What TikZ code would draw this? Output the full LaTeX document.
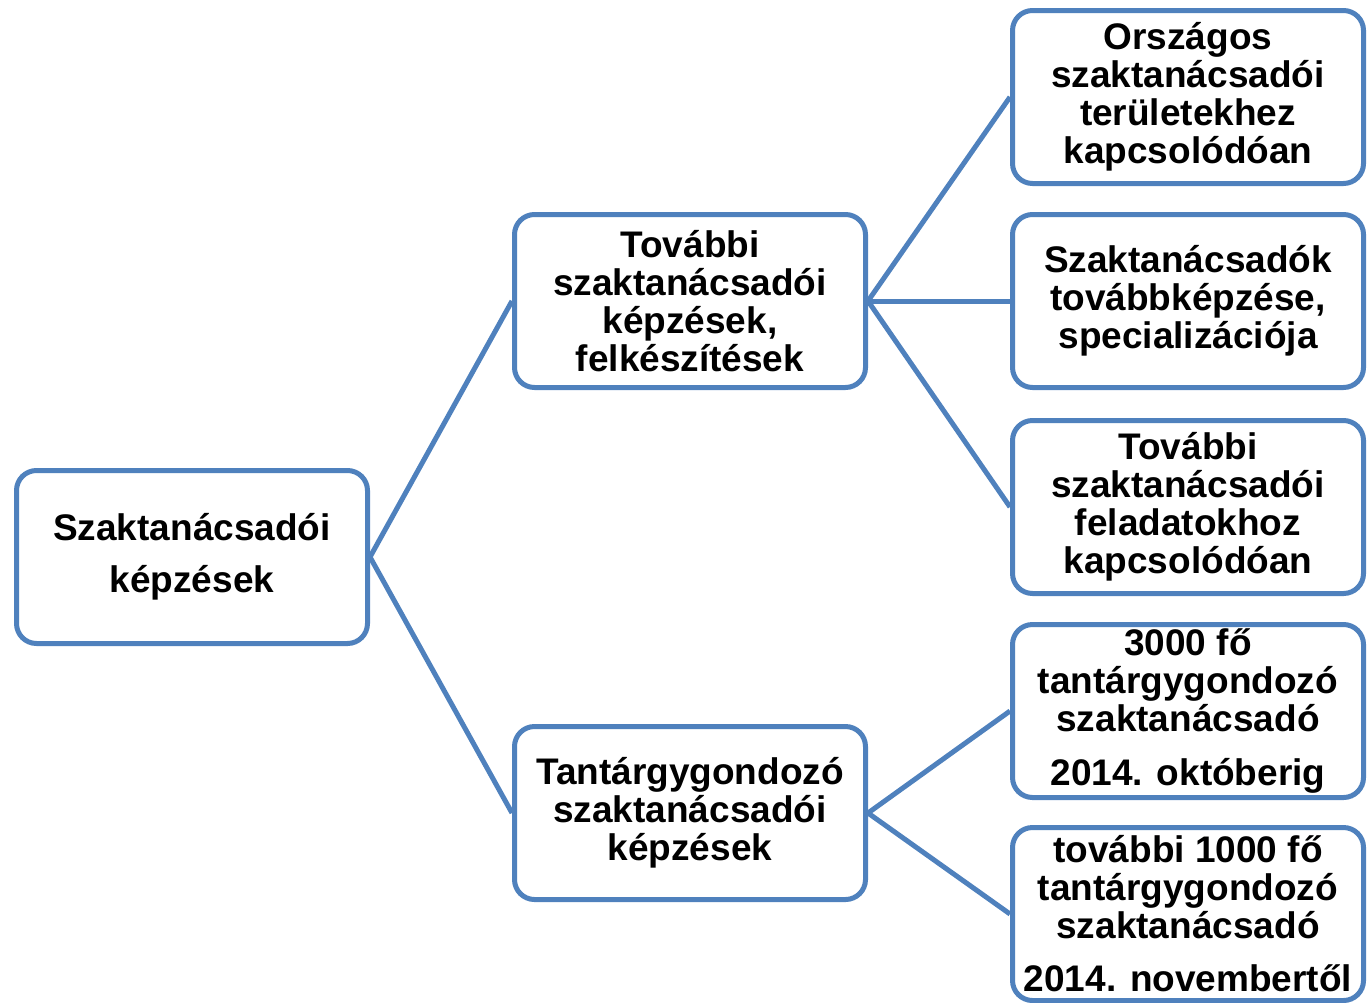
\documentclass[tikz,border=0pt]{standalone}
\usepackage{fontspec}
\setmainfont{Liberation Sans}
\definecolor{boxblue}{HTML}{4F81BD}
\tikzset{
	box/.style={draw=boxblue, line width=5pt, rounded corners=20pt, fill=white,
		minimum width=351pt, minimum height=173pt, inner sep=0pt, align=center,
		font=\fontsize{37}{38}\selectfont\bfseries},
	link/.style={draw=boxblue, line width=5pt}
}
\begin{document}
\begin{tikzpicture}[x=1pt, y=-1pt]
	\useasboundingbox (0,0) rectangle (1370,1002);
	\def\colb{690}
	\def\colc{1188}
	\node[box] (kepzesek) at (192,557) {Szaktanácsadói\\[14pt]képzések};
	\node[box] (tovabbi) at (\colb,301) {További\\szaktanácsadói\\képzések,\\felkészítések};
	\node[box] (tantargy) at (\colb,813) {Tantárgygondozó\\szaktanácsadói\\képzések};

	\node[box] (orszagos) at (\colc,97) {Országos\\szaktanácsadói\\területekhez\\kapcsolódóan};
	\node[box] (tovabbkepzes) at (\colc,301) {Szaktanácsadók\\továbbképzése,\\specializációja};
	\node[box] (feladatok) at (\colc,507) {További\\szaktanácsadói\\feladatokhoz\\kapcsolódóan};
	\node[box] (oktober) at (\colc,711) {3000 fő\\tantárgygondozó\\szaktanácsadó\\[16pt]2014. októberig};
	\node[box] (november) at (\colc,914) {további 1000 fő\\tantárgygondozó\\szaktanácsadó\\[15pt]2014. novembertől};

	\foreach \a/\b in {kepzesek/tovabbi, kepzesek/tantargy,
		tovabbi/orszagos, tovabbi/tovabbkepzes, tovabbi/feladatok,
		tantargy/oktober, tantargy/november}{%
		\draw[link] (\a.east) -- (\b.west);
	}
\end{tikzpicture}
\end{document}
